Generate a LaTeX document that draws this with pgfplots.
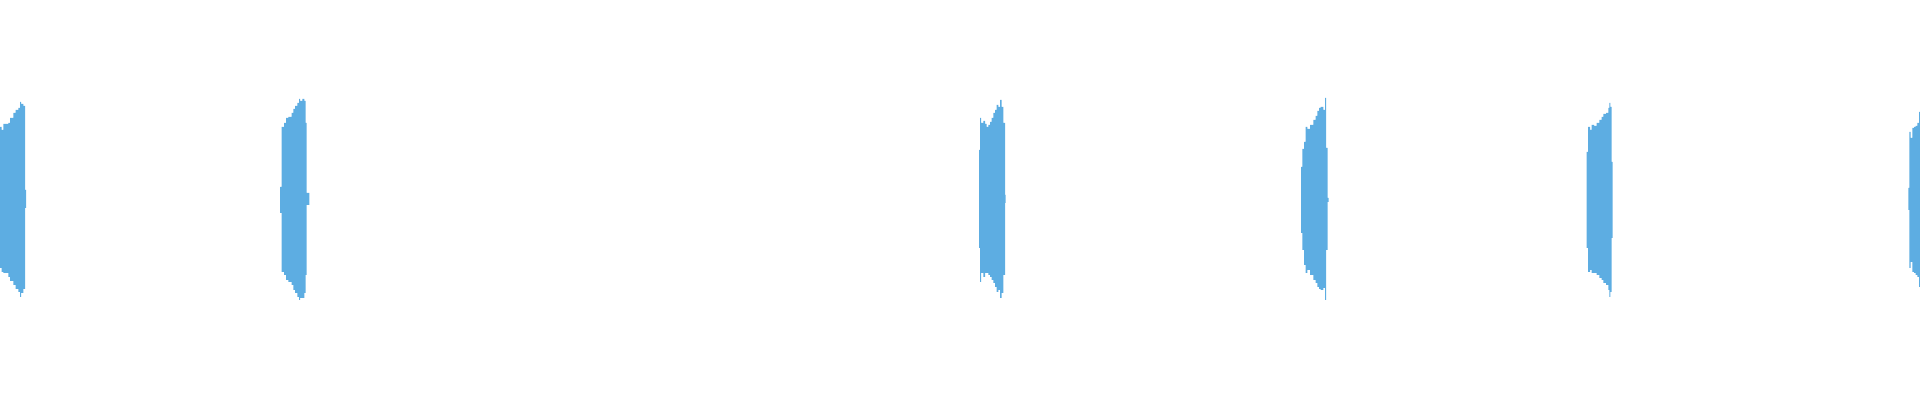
\documentclass[border=0pt]{standalone}
\usepackage{pgfplots}
\pgfplotsset{compat=1.18}
\usepackage{pgfplotstable}
\usepgfplotslibrary{fillbetween}
\definecolor{wave}{RGB}{93,173,226}

% waveform envelope per burst: x (px), top (px), bottom (px)
\pgfplotstableread{
x t b
0 127 268
1.7 130 272
3.3 124 273
8.3 123 277
10 118 281
13.3 113 285
15.7 110 289
18.3 108 292
20 102 297
21 104 293
23.3 106 289
25 190 208
26 190 208
}\blobA
\pgfplotstableread{
x t b
280 187 213
281.7 127 272
284 123 275
286 118 280
288.3 117 282
291.7 113 285
293.3 109 290
295 106 293
297.3 103 297
299 99 300
300 101 298
302.3 99 298
304.3 101 293
305.7 123 275
306.7 193 205
309.3 193 205
}\blobB
\pgfplotstableread{
x t b
979 150 248
980 118 282
981 123 273
983.3 121 277
985 124 273
986.7 127 273
988.3 125 275
990 122 277
991.7 118 280
993.3 113 283
995 110 287
996.7 105 292
998.3 107 290
1000 100 298
1001.7 107 293
1003.3 123 275
1005 195 203
1005.7 195 203
}\blobC
\pgfplotstableread{
x t b
1301 167 233
1302.3 149 250
1304 142 265
1305.7 127 273
1307.3 129 270
1310 125 275
1313.3 120 280
1315.7 116 283
1317.3 111 287
1319 108 289
1320.7 107 290
1323.3 110 288
1325 98 300
1326 148 250
1327.7 198 202
1328.7 198 202
}\blobD
\pgfplotstableread{
x t b
1586.7 152 248
1588 127 272
1590 130 270
1591.7 125 273
1594 126 273
1596.7 123 275
1599.3 120 278
1601.7 117 280
1603.3 114 283
1606 113 285
1608.3 108 290
1609.3 103 297
1610.3 107 292
1611.7 162 238
1612.7 162 238
}\blobE
\pgfplotstableread{
x t b
1908.3 188 210
1909.3 132 268
1910.7 138 262
1912.3 128 272
1914 127 273
1915.7 126 275
1917.3 123 277
1919 112 287
1920 112 287
}\blobF

\begin{document}
\begin{tikzpicture}
\begin{axis}[
    scale only axis,
    width=19.2cm, height=4cm,
    xmin=0, xmax=1920, ymin=0, ymax=400,
    y dir=reverse,
    hide axis,
    clip=false,
    every axis plot/.append style={const plot mark left, draw=none},
]
\path (rel axis cs:0,0) rectangle (rel axis cs:1,1);

\addplot[name path=tA] table[x=x,y=t] {\blobA};
\addplot[name path=bA] table[x=x,y=b] {\blobA};
\addplot[fill=wave] fill between[of=tA and bA];

\addplot[name path=tB] table[x=x,y=t] {\blobB};
\addplot[name path=bB] table[x=x,y=b] {\blobB};
\addplot[fill=wave] fill between[of=tB and bB];

\addplot[name path=tC] table[x=x,y=t] {\blobC};
\addplot[name path=bC] table[x=x,y=b] {\blobC};
\addplot[fill=wave] fill between[of=tC and bC];

\addplot[name path=tD] table[x=x,y=t] {\blobD};
\addplot[name path=bD] table[x=x,y=b] {\blobD};
\addplot[fill=wave] fill between[of=tD and bD];

\addplot[name path=tE] table[x=x,y=t] {\blobE};
\addplot[name path=bE] table[x=x,y=b] {\blobE};
\addplot[fill=wave] fill between[of=tE and bE];

\addplot[name path=tF] table[x=x,y=t] {\blobF};
\addplot[name path=bF] table[x=x,y=b] {\blobF};
\addplot[fill=wave] fill between[of=tF and bF];
\end{axis}
\end{tikzpicture}
\end{document}
